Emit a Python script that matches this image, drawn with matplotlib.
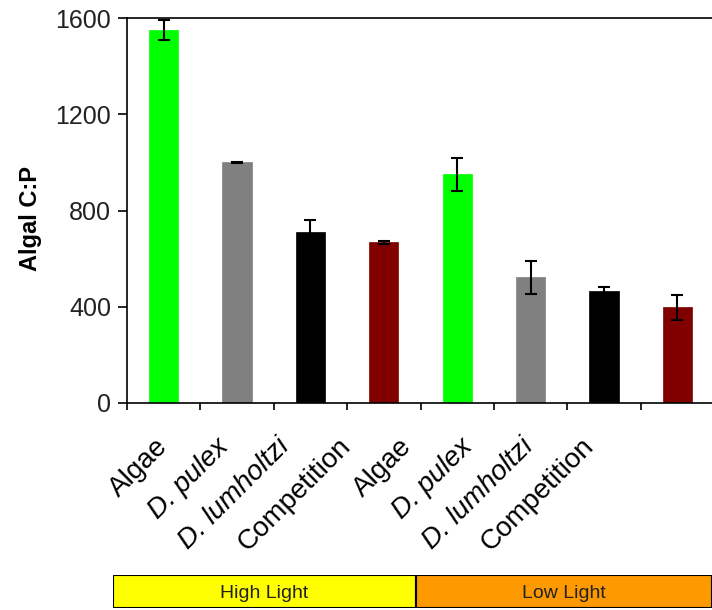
#!/usr/bin/env python3

from matplotlib import pyplot as plt
from matplotlib.patches import Rectangle

labels = ["Algae", "D. pulex", "D. lumholtzi", "Competition",
          "Algae", "D. pulex", "D. lumholtzi", "Competition"]
values = [1550, 1000, 710, 668, 950, 522, 464, 397]
errors = [42, 3, 52, 7, 68, 70, 20, 52]
colors = ["#00ff00", "#808080", "#000000", "#800000",
          "#00ff00", "#808080", "#000000", "#800000"]
italic = [False, True, True, False, False, True, True, False]
groups = ["High Light", "Low Light"]
group_colors = ["#ffff00", "#ff9900"]


def main():
    plt.rcParams['font.family'] = ['Liberation Sans', 'DejaVu Sans']
    fig = plt.figure(figsize=(7.12, 6.10), dpi=100)
    ax = fig.add_axes([127 / 712, 1 - 403 / 610, 587 / 712, 385 / 610])

    x = range(len(values))
    ax.bar(x, values, width=0.4, color=colors, edgecolor=colors, linewidth=0.5)
    ax.errorbar(x, values, yerr=errors, fmt='none', ecolor='black',
                elinewidth=1.5, capsize=4, capthick=1.5)

    ax.set_xlim(-0.5, 7.5)
    ax.set_ylim(0, 1600)
    ax.set_yticks([0, 400, 800, 1200, 1600])
    ax.tick_params(axis='y', direction='out', length=6.5, width=1.2,
                   labelsize=18, labelcolor='#222222', pad=5)
    ax.set_xticks([i - 0.5 for i in range(8)])
    ax.set_xticklabels([])
    ax.tick_params(axis='x', direction='out', length=5, width=1.2)
    for s in ['left', 'bottom', 'top']:
        ax.spines[s].set_linewidth(1.2)
    ax.spines['right'].set_visible(False)
    ax.set_ylabel("Algal C:P", fontsize=17, fontweight='bold')
    ax.yaxis.set_label_coords(-0.145, 0.48)

    # the category labels sit a bit tighter than the bars
    for i, lab in enumerate(labels):
        ax.annotate(lab, xy=(i * 0.83 - 0.12, 0), xycoords=('data', 'axes fraction'),
                    xytext=(0, -22), textcoords='offset points',
                    rotation=45, ha='right', va='top', rotation_mode='anchor',
                    fontsize=20, fontstyle='italic' if italic[i] else 'normal')

    band = fig.add_axes([113 / 712, 1 - 608 / 610, 599 / 712, 33 / 610])
    band.set_xlim(0, 599)
    band.set_ylim(0, 1)
    band.axis('off')
    widths = [303, 296]
    left = 0
    for name, c, w in zip(groups, group_colors, widths):
        band.add_patch(Rectangle((left, 0), w, 1, facecolor=c,
                                 edgecolor='black', linewidth=1.5))
        band.text(left + w / 2, 0.45, name, ha='center', va='center',
                  fontsize=14, color='#222222')
        left += w

    fig.savefig("out.png", dpi=100)


if __name__ == "__main__":
    main()
